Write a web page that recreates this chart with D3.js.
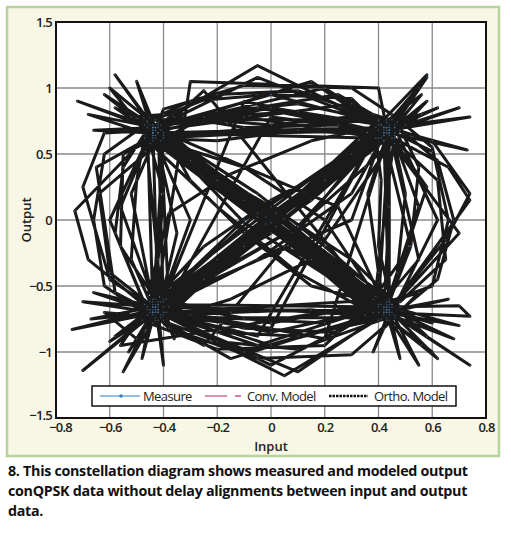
<!DOCTYPE html>
<html><head><meta charset="utf-8">
<script src="https://d3js.org/d3.v7.min.js"></script>
<style>body{margin:0;background:#fff;font-family:"Open Sans",sans-serif}</style>
</head><body>
<script>
var xTicks = [-0.8,-0.6,-0.4,-0.2,0,0.2,0.4,0.6,0.8];
var yTicks = [-1.5,-1,-0.5,0,0.5,1,1.5];
// measured trajectory (input I, output Q), first stretch
var measX = [-0.43,-0.62,-0.44,0.42,0.58,0.44,0.02,-0.42,-0.70,-0.44,0.43,0.74,0.44,0.05,-0.42,-0.55,-0.43,-0.02,0.42,0.66,0.74,0.45,0.70,0.43,-0.05,-0.44,-0.73,-0.68,-0.45,-0.05,0.40,0.55,0.44,-0.05,-0.44,-0.58,-0.42,-0.20,0.43,0.62,0.42,-0.44,-0.66,-0.43,0.20,0.44,0.74,0.42,0.00,-0.44,-0.74,-0.42,-0.10,0.43,0.58,0.40,0.70,0.44,0.10,-0.43,-0.60,-0.43,-0.30,0.40,0.43,0.73,0.44,-0.02,-0.42,-0.70,-0.44,0.42,0.55,0.44,0.05,-0.43,-0.62,-0.70,-0.60,-0.43,0.00,0.43,0.70,0.74,0.43,0.65,0.74,0.60,0.44,0.55,0.42,-0.05,-0.44,-0.50,-0.43,-0.10,0.43,0.60,0.42,0.00,-0.42,-0.53,-0.44,-0.66,-0.43,-0.20,0.44,0.62,0.43,0.30,-0.43,-0.72,-0.44,-0.42,-0.40,-0.43,0.43,0.48,0.44,0.44,0.70,0.43,0.02,-0.43,-0.67,-0.44,-0.05,0.42,0.60,0.44,0.20,-0.44,-0.48,-0.43,0.10,0.43,0.58,0.43,0.68,0.42,-0.10,-0.42,-0.65,-0.58,-0.44];
var measY = [0.70,0.95,0.66,0.70,1.08,0.66,0.05,-0.66,-0.62,-0.70,-0.68,-1.10,-0.70,-1.18,-0.70,-1.15,-0.66,0.02,0.66,0.40,0.15,-0.66,-0.80,-0.70,0.02,0.68,0.07,-0.30,-0.68,-0.95,-0.66,-0.30,0.68,1.17,0.70,1.10,0.66,0.30,-0.66,-1.05,-0.72,0.66,0.68,0.70,1.00,0.68,0.78,0.70,-0.02,-0.68,-0.83,-0.70,0.90,0.66,1.10,0.72,-0.10,-0.68,-1.15,-0.70,-0.92,-0.66,1.05,1.00,0.70,0.53,0.66,-0.03,-0.68,-1.14,-0.70,-0.68,-1.10,-0.66,0.01,0.68,0.66,0.25,-0.45,-0.68,-0.85,-0.66,-0.65,-0.73,-0.70,-0.15,0.20,0.60,0.70,1.00,0.66,0.85,0.66,1.05,0.70,0.15,-0.68,-0.78,-0.66,-1.10,-0.68,-1.00,-0.70,-0.55,-0.66,-0.30,0.68,0.85,0.70,0.88,0.68,0.90,0.70,-0.68,-1.10,-0.66,-0.70,-1.05,-0.68,0.68,0.85,0.66,-0.05,-0.70,-0.75,-0.66,0.05,0.70,0.52,0.68,-0.90,-0.66,-1.05,-0.68,-0.05,0.68,0.25,-0.66,-0.90,-0.70,-0.02,0.66,0.40,-0.55,-0.70];
// second stretch
var measX2 = [-0.40,-0.20,0.10,0.40,0.46,0.50,0.47,0.41,0.10,-0.20,-0.45,-0.52,-0.50,-0.46,-0.30,0.00,0.30,0.45,0.62,0.65,0.48,0.20,-0.10,-0.40,-0.60,-0.64,-0.41,-0.10,0.20,0.39,0.46,0.10,-0.20,-0.47,-0.36,0.00,0.38,0.50,0.20,-0.10,-0.39,-0.48,-0.20,0.20,0.38,0.52,0.55,0.47,0.15,-0.15,-0.38,-0.46,-0.30,0.00,0.35,0.48,0.30,0.00,-0.30,-0.45,-0.55,-0.58,-0.47,-0.38,-0.05,0.30,0.46,0.40,0.41,0.39,0.10,-0.25,-0.42,-0.30,-0.10,0.15,0.41,0.60,0.66,0.60,0.45,0.30,-0.10,-0.40,-0.45,-0.40,-0.42,-0.44,-0.15,0.15,0.46,0.35,0.10,-0.25,-0.41,-0.62,-0.50,-0.42,-0.10,0.25,0.44,0.55,0.42,0.38,0.45,0.20,-0.05,-0.40,-0.52,-0.40,-0.10,0.25,0.42,0.56,0.45,0.36,0.40,0.43,0.15,-0.15,-0.43,-0.56,-0.55,-0.43,-0.20,0.10,0.42,0.30,-0.05,-0.40,-0.36,-0.42,-0.10,0.30,0.48];
var measY2 = [0.62,0.82,0.88,0.75,0.58,0.20,-0.40,-0.75,-0.88,-0.85,-0.62,-0.30,0.30,0.75,0.90,0.95,0.92,0.62,0.30,-0.30,-0.62,-0.78,-0.75,-0.72,-0.40,0.20,0.60,0.40,0.00,-0.58,-0.80,-0.40,0.10,0.62,0.78,0.72,0.80,0.72,0.30,-0.20,-0.60,-0.76,-0.98,-0.95,-0.60,-0.20,0.40,0.74,0.60,0.35,0.05,-0.58,-0.72,-0.68,-0.72,-0.66,-0.30,0.10,0.45,0.72,0.40,-0.10,-0.64,-0.82,-1.05,-1.02,-0.74,-0.20,0.30,0.62,0.82,0.78,0.74,0.30,-0.10,-0.50,-0.64,-0.50,0.00,0.55,0.80,1.00,1.02,0.84,0.58,0.20,-0.30,-0.78,-0.60,-0.30,0.62,0.40,-0.05,-0.45,-0.74,-0.70,-0.90,-0.64,-0.82,-0.85,-0.62,-0.55,-0.82,-1.00,-0.64,-0.20,0.20,0.66,0.78,0.80,0.70,0.72,0.60,0.80,0.76,0.20,-0.40,-0.76,-0.68,-0.70,-0.60,-0.20,0.50,0.62,0.60,0.68,0.64,0.20,-0.30,-0.66,-0.90,-0.62,0.00,0.50,0.68];
// third stretch
var measX3 = [-0.44,0.40,0.44,-0.40,-0.42,0.44,0.42,-0.44,-0.46,0.38,0.46,-0.38,-0.41,0.00,0.41,0.00,-0.41,0.00,0.40,-0.05,-0.46,-0.60,-0.44,0.00,0.46,0.62,0.45,0.00,-0.44,0.44,-0.42,0.42,-0.44,0.39,-0.39,0.44,-0.44,0.25,0.43,-0.25,-0.43,0.43,-0.25,-0.43,0.43,0.55,0.44,-0.43,-0.56,-0.44,0.15,0.42,0.44,-0.15,-0.44,0.44,-0.40,0.40,-0.44,0.44,-0.42,-0.60,-0.44,0.60,0.44,0.56,0.43,-0.56,-0.44,0.56,0.42,-0.42,0.43,-0.43,0.40,-0.40,0.40,-0.40];
var measY3 = [0.64,-0.64,0.70,-0.70,0.72,-0.72,0.64,-0.64,0.70,-0.70,0.66,-0.66,0.68,0.85,0.72,-0.82,-0.72,0.78,0.68,-0.88,-0.68,0.00,0.70,0.95,0.70,0.00,-0.70,-0.95,-0.66,0.64,-0.64,-0.66,0.62,0.70,-0.70,-0.60,0.72,0.95,0.74,-0.95,-0.74,-0.74,0.98,0.64,-0.64,0.10,0.72,-0.64,0.10,0.68,1.05,0.68,-0.68,-1.05,-0.72,0.66,-0.62,0.62,0.66,-0.64,0.70,1.00,0.60,-1.00,-0.76,-0.95,-0.62,-0.95,-0.60,0.95,0.60,-0.76,0.76,0.76,-0.76,0.64,0.76,-0.76];
// fourth stretch
var measX4 = [-0.47,-0.62,-0.66,-0.62,-0.46,-0.20,0.10,0.46,0.62,0.68,0.62,0.46,0.10,-0.20,-0.46,-0.30,-0.41,0.30,0.41,-0.10,-0.41,-0.52,-0.44,0.00,0.44,0.52,0.41,0.00,-0.46,-0.25,0.00,0.46,0.58,0.46,0.15,-0.40,-0.58,-0.45,0.05,0.45,0.58,0.43,0.25,-0.44,-0.58,-0.43,-0.35,-0.42,-0.10,0.42,0.44,0.43,-0.05,-0.43,-0.68,-0.44,0.40,0.66,0.44,-0.44];
var measY4 = [0.72,0.50,0.00,-0.50,-0.72,-0.92,-0.98,-0.72,-0.45,0.00,0.45,0.72,0.98,0.95,0.74,0.00,-0.62,0.00,0.62,0.78,0.72,0.20,-0.62,-0.78,-0.62,-0.20,0.72,-0.10,-0.66,-0.20,0.15,0.64,0.90,0.70,0.15,-0.60,-0.88,-0.70,-0.20,-0.64,-0.88,-0.68,0.10,0.70,0.85,0.64,-0.10,-0.70,-1.00,-0.70,0.10,0.70,1.08,0.70,0.80,0.64,-0.70,-0.60,-0.70,0.66];
var legendItems = ["Measure","Conv. Model","Ortho. Model"];
var captionLines = ["8. This constellation diagram shows measured and modeled output","conQPSK data without delay alignments between input and output","data."];

var svg = d3.select("body").append("svg").attr("width",511).attr("height",534);
svg.append("rect").attr("x",7).attr("y",7).attr("width",492).attr("height",449)
  .attr("fill","#f8f6e4").attr("stroke","#b7d39c").attr("stroke-width",2.5);

var m = {l:56,r:486,t:22,b:418};
var x = d3.scaleLinear().domain([-0.8,0.8]).range([m.l,m.r]);
var y = d3.scaleLinear().domain([-1.5,1.5]).range([m.b,m.t]);

svg.append("rect").attr("x",m.l).attr("y",m.t).attr("width",m.r-m.l).attr("height",m.b-m.t).attr("fill","#fff");
var grid = svg.append("g").attr("stroke","#8a8a8a").attr("stroke-width",1.3);
xTicks.forEach(function(t){ grid.append("line").attr("x1",x(t)).attr("x2",x(t)).attr("y1",m.t).attr("y2",m.b); });
yTicks.forEach(function(t){ grid.append("line").attr("y1",y(t)).attr("y2",y(t)).attr("x1",m.l).attr("x2",m.r); });

function pairs(a,b){ return a.map(function(v,i){ return [v,b[i]]; }); }
var pts = pairs(measX,measY).concat(pairs(measX2,measY2)).concat(pairs(measX3,measY3)).concat(pairs(measX4,measY4));
var line = d3.line().x(function(d){return x(d[0]);}).y(function(d){return y(d[1]);});
svg.append("path").datum(pts).attr("d",line).attr("fill","none").attr("stroke","#1a1a1a")
  .attr("stroke-width",3).attr("stroke-linejoin","round");
svg.selectAll("circle.p").data(pts).enter().append("circle")
  .attr("cx",function(d){return x(d[0]);}).attr("cy",function(d){return y(d[1]);})
  .attr("r",0.8).attr("fill","#4a7aa8").attr("opacity",0.6);

svg.append("rect").attr("x",m.l).attr("y",m.t).attr("width",m.r-m.l).attr("height",m.b-m.t)
  .attr("fill","none").attr("stroke","#111").attr("stroke-width",2);

var fnt = '"Open Sans",sans-serif';
function styleTicks(g){ g.select(".domain").remove(); g.selectAll("text").attr("font-size",13).attr("font-weight",600).attr("font-family",fnt).attr("fill","#222").attr("letter-spacing","-0.8"); }
var fmt = function(d){ return d3.format("")(d).replace("-","\u2212"); };
svg.append("g").attr("transform","translate(0,"+m.b+")")
  .call(d3.axisBottom(x).tickValues(xTicks).tickSize(0).tickPadding(5).tickFormat(fmt)).call(styleTicks)
  .call(function(g){ g.selectAll("text").filter(function(d){return d===-0.8;}).attr("dx",4); });
svg.append("g").attr("transform","translate("+m.l+",0)")
  .call(d3.axisLeft(y).tickValues(yTicks).tickSize(0).tickPadding(4).tickFormat(fmt)).call(styleTicks)
  .call(function(g){ g.selectAll("text").filter(function(d){return d===-1.5;}).attr("dy","0.1em"); });

svg.append("text").attr("x",(m.l+m.r)/2).attr("y",451).attr("text-anchor","middle")
  .attr("font-size",13).attr("font-weight",600).attr("font-family",fnt).attr("fill","#222").text("Input");
svg.append("text").attr("transform","translate(31,"+y(0)+") rotate(-90)").attr("text-anchor","middle")
  .attr("font-size",13).attr("font-weight",600).attr("font-family",fnt).attr("fill","#222").text("Output");

// legend
var lg = svg.append("g");
lg.append("rect").attr("x",92).attr("y",386).attr("width",364).attr("height",20).attr("fill","#fff").attr("stroke","#111").attr("stroke-width",1.5);
lg.append("line").attr("x1",100).attr("x2",140).attr("y1",396).attr("y2",396).attr("stroke","#2e7fc4").attr("stroke-width",1);
lg.append("circle").attr("cx",121).attr("cy",396).attr("r",1.8).attr("fill","#2e7fc4");
lg.append("line").attr("x1",205).attr("x2",227).attr("y1",396).attr("y2",396).attr("stroke","#c0285a").attr("stroke-width",1);
lg.append("line").attr("x1",235).attr("x2",241).attr("y1",396).attr("y2",396).attr("stroke","#c0285a").attr("stroke-width",1.2);
lg.append("line").attr("x1",329).attr("x2",368).attr("y1",396).attr("y2",396).attr("stroke","#111").attr("stroke-width",2.5).attr("stroke-dasharray","2.5,1");
var lx = [143,247,374];
lg.selectAll("text").data(legendItems).enter().append("text")
  .attr("x",function(d,i){return lx[i];}).attr("y",401).attr("font-size",13).attr("font-family",fnt)
  .attr("fill","#222").attr("letter-spacing","-0.6").text(function(d){return d;});

svg.selectAll("text.cap").data(captionLines).enter().append("text")
  .attr("x",8).attr("y",function(d,i){return 476+i*20;}).attr("font-size",14.3).attr("font-weight",700)
  .attr("font-family",fnt).attr("fill","#111").attr("letter-spacing","-0.3").text(function(d){return d;});
</script>
</body></html>
